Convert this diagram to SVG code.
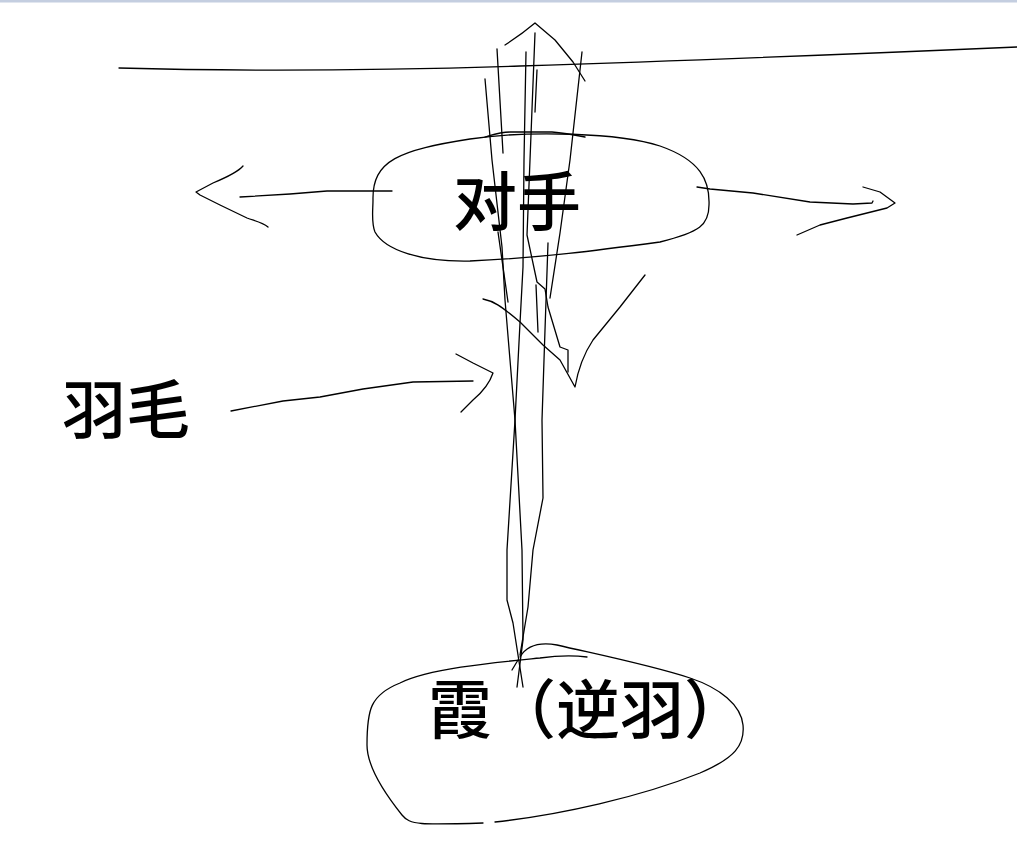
<svg xmlns="http://www.w3.org/2000/svg" width="1017" height="865" viewBox="0 0 1017 865">
<style>
.s{fill:none;stroke:#000;stroke-width:1.3;stroke-linecap:round;stroke-linejoin:round}
.t{font-family:"Noto Sans CJK SC","Noto Sans CJK JP",sans-serif;font-size:64px;font-weight:500;fill:#000}
</style>
<rect width="1017" height="865" fill="#fff"/>
<rect x="0" y="0" width="1017" height="2.5" fill="#c4cee0"/>
<g id="opponent">
<path class="s" d="M373,200 C372,160 400,150 470,139 C530,130 620,133 660,146 C700,160 710,180 709,205 C709,225 700,232 660,242 C600,250 540,258 470,261 C420,262 385,250 375,232 C371,222 373,210 373,200 Z"/>
<path class="s" d="M485,137 C495,134 500,132 510,132 L552,132 C565,133 575,135 585,137"/>
<text class="t" x="453" y="225">对手</text>
</g>
<g id="feather">
<text class="t" x="62" y="433">羽毛</text>
</g>
<g id="kasumi">
<path class="s" d="M587,657 C570,655 555,656 540,658 C500,662 430,668 400,683 C370,695 367,710 367,745 C367,770 390,800 402,815 C410,825 420,825 483,823"/>
<path class="s" d="M495,822 C560,815 640,797 700,773 C735,758 745,745 743,725 C741,705 720,688 690,678 C650,665 600,655 557,645 C540,642 527,645 520,657"/>
<text class="t" x="428" y="733">霞（逆羽）</text>
</g>
<g id="connectors">
<path class="s" d="M119,68 Q300,73 520,66 T1017,47"/>
<path class="s" d="M505,45 Q522,34 535,23 L555,40 L573,62 L585,81"/>
<path class="s" d="M485,79 L492,160 L502,247 L505,300 L515,420 L522,550 L523,640 L517,687"/>
<path class="s" d="M497,49 L503,153"/>
<path class="s" d="M526,52 L524,160 L523,267 L520,323 L515,420 L507,550 L507,600 L513,623 L518,655 L523,687"/>
<path class="s" d="M535,33 L530,160 L527,235 L537,282 L545,289 L548,307 L560,347 L568,350 L568,372"/>
<path class="s" d="M536,285 L538,332"/>
<path class="s" d="M537,70 L535,112"/>
<path class="s" d="M582,52 L570,160 L560,233 L550,298"/>
<path class="s" d="M548,243 L545,330 L542,420 L543,498 L533,550 L528,607 L520,655"/>
<path class="s" d="M498,232 L508,302"/>
<path class="s" d="M512,670 L518,660"/>
<path class="s" d="M483,299 C493,301 500,305 520,322 L543,345 L560,360 L575,387 C578,370 585,352 593,340 L620,307 L645,275"/>
<path class="s" d="M231,411 L283,401 L320,397 L363,389 L413,382 L473,381"/>
<path class="s" d="M456,354 L473,363 L493,373 C490,382 485,390 473,400 L461,412"/>
<path class="s" d="M240,197 L290,194 L327,191 L392,191"/>
<path class="s" d="M243,166 C238,172 225,178 213,183 L196,192 L200,195 L220,205 L247,218 C255,221 262,222 268,227"/>
<path class="s" d="M697,187 L710,189 L753,193 L810,202 L853,204 L872,203 L873,201"/>
<path class="s" d="M863,187 L880,192 L895,203 L887,208 L847,218 L820,225 L797,235"/>
</g>
</svg>
